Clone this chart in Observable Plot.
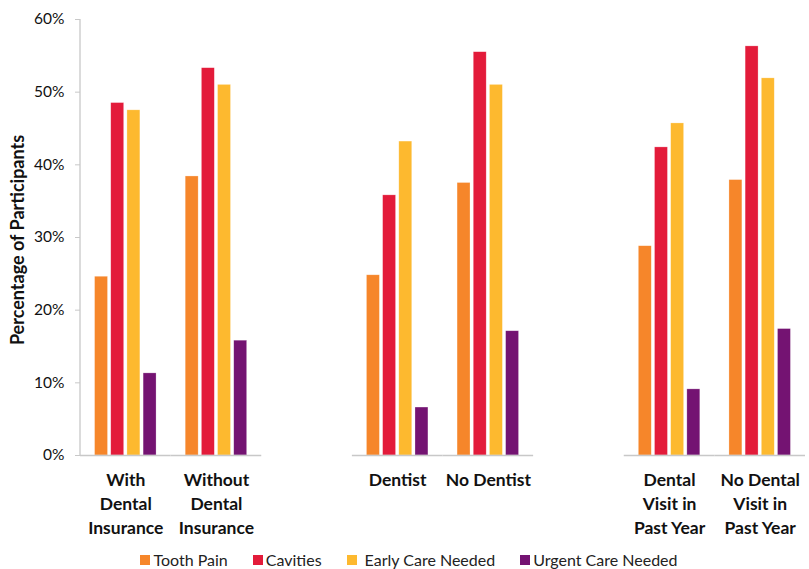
<!DOCTYPE html>
<html>
<head>
<meta charset="utf-8">
<script src="https://cdn.jsdelivr.net/npm/d3@7"></script>
<script src="https://cdn.jsdelivr.net/npm/@observablehq/plot@0.6"></script>
<style>
  html, body { margin: 0; padding: 0; background: #fff; }
  #chart { width: 809px; }
  .legend { display: flex; justify-content: center; align-items: center; font-family: Lato, "Open Sans", sans-serif; font-size: 16px; color: #222; height: 19px; margin-left: 9px; }
  .legend .item { display: flex; align-items: center; margin: 0 12.5px; }
  .legend .sw { width: 10px; height: 10px; margin-right: 3px; }
</style>
</head>
<body>
<div id="chart"></div>
<script>
const groups = ["With\nDental\nInsurance", "Without\nDental\nInsurance", "Dentist", "No Dentist", "Dental\nVisit in\nPast Year", "No Dental\nVisit in\nPast Year"];
const series = ["Tooth Pain", "Cavities", "Early Care Needed", "Urgent Care Needed"];
const colors = ["#F6862A", "#E31B3A", "#FDB92F", "#741372"];
const toothPain  = [24.6, 38.4, 24.8, 37.5, 28.8, 37.9];
const cavities   = [48.5, 53.3, 35.8, 55.5, 42.4, 56.3];
const earlyCare  = [47.5, 51.0, 43.2, 51.0, 45.7, 51.9];
const urgentCare = [11.3, 15.8, 6.6, 17.1, 9.1, 17.4];
const yTicks = [0, 10, 20, 30, 40, 50, 60];

const values = [toothPain, cavities, earlyCare, urgentCare];
const data = [];
series.forEach((s, i) => groups.forEach((g, j) => data.push({group: g, series: s, value: values[i][j]})));

// group slots with empty gaps between pairs
const fxDomain = [groups[0], groups[1], " ", groups[2], groups[3], "  ", groups[4], groups[5]];

const font = "Lato, 'Open Sans', sans-serif";

const chart = Plot.plot({
  width: 809,
  height: 550,
  marginLeft: 80,
  marginRight: 4,
  marginTop: 19,
  marginBottom: 95,
  style: {fontFamily: font, fontSize: "15px", color: "#111", background: "#fff"},
  fx: {domain: fxDomain, paddingInner: 0, paddingOuter: 0, round: false, axis: null},
  x: {domain: series, paddingInner: 0.2, paddingOuter: 0.9, round: false, axis: null},
  y: {domain: [0, 60], axis: null},
  color: {domain: series, range: colors},
  marks: [
    Plot.barY(data, {fx: "group", x: "series", y: "value", fill: "series", stroke: "#ffffff", strokeOpacity: 0.45, strokeWidth: 0.6}),
    Plot.ruleY([0], {stroke: "#c8c8c8", strokeWidth: 1.3}),
    Plot.axisY({ticks: yTicks, tickFormat: d => d + "%", tickSize: 5, tickPadding: 11, stroke: "#c8c8c8", fontSize: 15.5, fill: "#111", label: null, facetAnchor: "left"}),
    Plot.axisFx({domain: fxDomain, anchor: "bottom", tickSize: 0, tickPadding: 14, fontSize: 17.5, fontWeight: "bold", lineHeight: 1.36, fill: "#111", label: null})
  ]
});

// y axis line along the left edge
const svg = d3.select(chart);
svg.append("line")
  .attr("x1", 80).attr("x2", 80).attr("y1", 19).attr("y2", 455)
  .attr("stroke", "#c8c8c8").attr("stroke-width", 1.3);
// y axis title
svg.append("text")
  .attr("transform", "translate(24,240) rotate(-90)")
  .attr("text-anchor", "middle")
  .attr("font-family", font)
  .attr("font-weight", "bold")
  .attr("font-size", 18)
  .attr("fill", "#111")
  .text("Percentage of Participants");

document.getElementById("chart").appendChild(chart);

const legend = document.createElement("div");
legend.className = "legend";
series.forEach((s, i) => {
  const item = document.createElement("div");
  item.className = "item";
  const sw = document.createElement("span");
  sw.className = "sw";
  sw.style.background = colors[i];
  if (i === 2) sw.style.marginRight = "8px";
  const t = document.createElement("span");
  t.textContent = s;
  item.appendChild(sw); item.appendChild(t);
  legend.appendChild(item);
});
document.getElementById("chart").appendChild(legend);
</script>
</body>
</html>
